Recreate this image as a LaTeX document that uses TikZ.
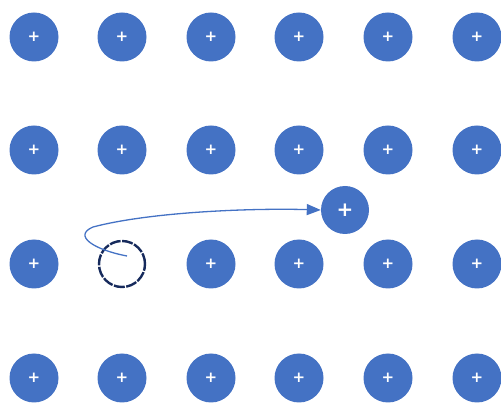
\documentclass[tikz,border=0pt]{standalone}
\usepackage{fontspec}
\setsansfont{DejaVu Sans}
\usetikzlibrary{arrows.meta}

\definecolor{ionblue}{RGB}{68,114,196}
\definecolor{vacnavy}{RGB}{22,42,92}

\tikzset{
  ion/.style={circle, fill=ionblue, minimum size=49pt, inner sep=0pt,
    text=white, font=\sffamily\bfseries\fontsize{15}{15}\selectfont},
  bigion/.style={ion, minimum size=48pt,
    font=\sffamily\bfseries\fontsize{20}{20}\selectfont},
  vacancy/.style={circle, draw=vacnavy, line width=2.4pt,
    dash pattern=on 11pt off 1.5pt, minimum size=46pt, inner sep=0pt}
}

\begin{document}
\begin{tikzpicture}[x=1pt, y=-1pt]
  \useasboundingbox (0,0) rectangle (501,403);

  % gitter
  \foreach \r/\yy in {1/37,2/150,3/264,4/378}
    \foreach \c/\xx in {1/34,2/122,3/211,4/299,5/388,6/477} {
      \ifnum\r\c=32 \else
        \node[ion] (ion-\r-\c) at (\xx,\yy) {+};
      \fi
    }

  % leerstelle
  \node[vacancy] (vac) at (122,264) {};

  % zwischengitterplatz
  \node[bigion] (inter) at (345,210) {+};

  % sprung
  \coordinate (start) at (127,256);
  \draw[ionblue, line width=1.3pt, -{Triangle[length=14pt,width=11pt]}]
    (start) .. controls (95,250) and (72,236) .. (93,227)
            .. controls (150,212) and (250,208) .. (inter.west);
\end{tikzpicture}
\end{document}
